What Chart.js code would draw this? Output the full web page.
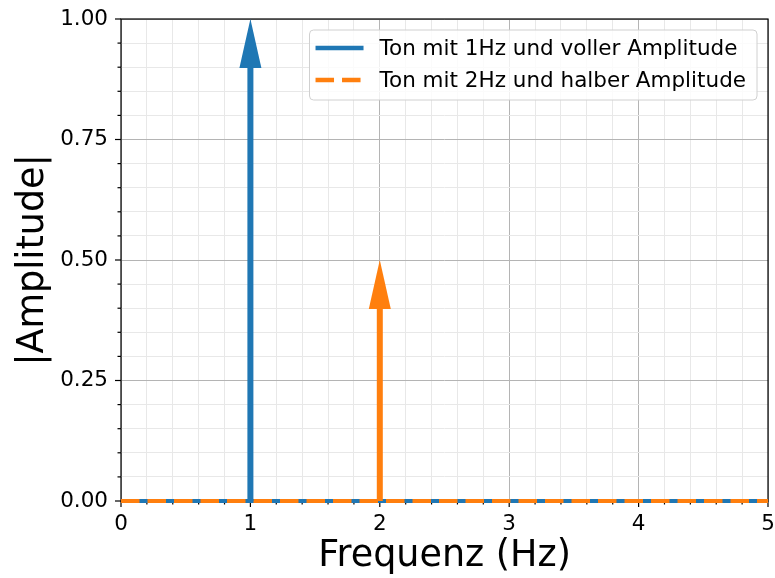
<!DOCTYPE html>
<html>
<head>
<meta charset="utf-8">
<script src="https://cdn.jsdelivr.net/npm/chart.js@4.4.1/dist/chart.umd.min.js"></script>
<style>
  html, body { margin: 0; padding: 0; background: #fff; }
  #wrap { width: 775px; height: 578px; position: relative; }
</style>
</head>
<body>
<div id="wrap"><canvas id="chartSpektrum"></canvas></div>
<script>
// ── Daten ──
const seriesLabels = ["Ton mit 1Hz und voller Amplitude", "Ton mit 2Hz und halber Amplitude"];
const seriesColors = ["#1f77b4", "#ff7f0e"];
const toneFreqs    = [1, 2];        // Hz
const toneAmps     = [1.0, 0.5];    // |Amplitude|
const baseFreqs    = [0, 5];        // Nulllinie über den ganzen Bereich
const baseAmps     = [0, 0];

const xMajorTicks  = [0, 1, 2, 3, 4, 5];
const xTickLabels  = ["0", "1", "2", "3", "4", "5"];
const yMajorTicks  = [0, 0.25, 0.5, 0.75, 1.0];
const yTickLabels  = ["0.00", "0.25", "0.50", "0.75", "1.00"];

const FONT       = "'DejaVu Sans', sans-serif";
const TICK_SIZE  = 21.5;
const TITLE_SIZE = 36.5;

function majorIndex(list, v) {
  return list.findIndex(m => Math.abs(m - v) < 1e-6);
}

function gridColor(list) {
  return ctx => majorIndex(list, ctx.tick.value) >= 0 ? "#b4b4b4" : "#e8e8e8";
}

// Rahmen + Tickstriche (unter den Linien)
const framePlugin = {
  id: "frame",
  beforeDatasetsDraw(chart) {
    const { ctx, chartArea: a, scales: { x, y } } = chart;
    ctx.save();
    ctx.strokeStyle = "#000";
    ctx.lineWidth = 1.2;
    x.ticks.forEach(t => {
      const px = x.getPixelForValue(t.value);
      const len = majorIndex(xMajorTicks, t.value) >= 0 ? 6 : 3.5;
      ctx.beginPath();
      ctx.moveTo(px, a.bottom);
      ctx.lineTo(px, a.bottom + len);
      ctx.stroke();
    });
    y.ticks.forEach(t => {
      const py = y.getPixelForValue(t.value);
      const len = majorIndex(yMajorTicks, t.value) >= 0 ? 6 : 3.5;
      ctx.beginPath();
      ctx.moveTo(a.left, py);
      ctx.lineTo(a.left - len, py);
      ctx.stroke();
    });
    ctx.strokeRect(a.left, a.top, a.width, a.height);
    ctx.restore();
  }
};

// Pfeile für die Töne
const arrowPlugin = {
  id: "arrows",
  afterDatasetsDraw(chart) {
    const { ctx, scales: { x, y } } = chart;
    ctx.save();
    toneFreqs.forEach((f, i) => {
      const px  = x.getPixelForValue(f);
      const py0 = y.getPixelForValue(0);
      const py1 = y.getPixelForValue(toneAmps[i]);
      const headLen = 49, headHalf = 11;
      ctx.fillStyle = seriesColors[i];
      ctx.fillRect(px - 3, py1 + headLen - 1, 6, py0 - py1 - headLen + 1);
      ctx.beginPath();
      ctx.moveTo(px, py1);
      ctx.lineTo(px - headHalf, py1 + headLen);
      ctx.lineTo(px + headHalf, py1 + headLen);
      ctx.closePath();
      ctx.fill();
    });
    ctx.restore();
  }
};

// Legende oben rechts
const legendPlugin = {
  id: "legendBox",
  afterDraw(chart) {
    const { ctx, chartArea: a } = chart;
    ctx.save();
    ctx.font = `${TICK_SIZE}px ${FONT}`;
    const textW = Math.max(...seriesLabels.map(s => ctx.measureText(s).width));
    const boxW = 6 + 48 + 16 + textW + 11;
    const boxR = a.right - 11, boxT = a.top + 11, boxH = 70;
    const boxL = boxR - boxW;
    ctx.beginPath();
    ctx.roundRect(boxL, boxT, boxW, boxH, 4);
    ctx.fillStyle = "rgba(255,255,255,0.8)";
    ctx.fill();
    ctx.strokeStyle = "#d0d0d0";
    ctx.lineWidth = 1;
    ctx.stroke();
    seriesLabels.forEach((label, i) => {
      const cy = boxT + 18 + i * 32;
      ctx.strokeStyle = seriesColors[i];
      ctx.lineWidth = 4.5;
      ctx.setLineDash(i === 1 ? [18.5, 8] : []);
      ctx.beginPath();
      ctx.moveTo(boxL + 6, cy);
      ctx.lineTo(boxL + 54, cy);
      ctx.stroke();
      ctx.setLineDash([]);
      ctx.fillStyle = "#000";
      ctx.textBaseline = "middle";
      ctx.fillText(label, boxL + 70, cy + 1);
    });
    ctx.restore();
  }
};

function initChart() {
  const canvas = document.getElementById("chartSpektrum");
  const baseData = baseFreqs.map((f, i) => ({ x: f, y: baseAmps[i] }));

  new Chart(canvas, {
    type: "line",
    data: {
      datasets: seriesLabels.map((label, i) => ({
        label,
        data: baseData,
        borderColor: seriesColors[i],
        backgroundColor: seriesColors[i],
        borderWidth: 4,
        borderDash: i === 1 ? [18.5, 8] : [],
        borderCapStyle: "butt",
        pointRadius: 0,
        tension: 0,
        clip: false,
        order: 1 - i
      }))
    },
    options: {
      responsive: true,
      maintainAspectRatio: false,
      animation: false,
      devicePixelRatio: 1,
      layout: { padding: { top: 19, right: 7, left: 0, bottom: 0 } },
      plugins: { legend: { display: false }, tooltip: { enabled: false } },
      scales: {
        x: {
          type: "linear",
          min: 0, max: 5,
          border: { display: false },
          grid: { color: gridColor(xMajorTicks), lineWidth: 1, drawTicks: false },
          ticks: {
            stepSize: 0.2, autoSkip: false, maxRotation: 0, padding: 11,
            color: "#000", font: { family: FONT, size: TICK_SIZE },
            callback: v => { const k = majorIndex(xMajorTicks, v); return k >= 0 ? xTickLabels[k] : ""; }
          },
          title: {
            display: true, text: "Frequenz (Hz)", color: "#000",
            font: { family: FONT, size: TITLE_SIZE }, padding: { top: 0, bottom: 0 }
          },
          afterFit: s => { s.height = 77; s.paddingLeft = 0; s.paddingRight = 0; }
        },
        y: {
          min: 0, max: 1,
          border: { display: false },
          grid: { color: gridColor(yMajorTicks), lineWidth: 1, drawTicks: false },
          ticks: {
            stepSize: 0.05, autoSkip: false, padding: 13,
            color: "#000", font: { family: FONT, size: TICK_SIZE },
            callback: v => { const k = majorIndex(yMajorTicks, v); return k >= 0 ? yTickLabels[k] : ""; }
          },
          title: {
            display: true, text: "|Amplitude|", color: "#000",
            font: { family: FONT, size: TITLE_SIZE }, padding: { top: 12, bottom: 0 }
          },
          afterFit: s => { s.width = 121; s.paddingTop = 0; s.paddingBottom = 0; }
        }
      }
    },
    plugins: [framePlugin, arrowPlugin, legendPlugin]
  });
}

initChart();
</script>
</body>
</html>
